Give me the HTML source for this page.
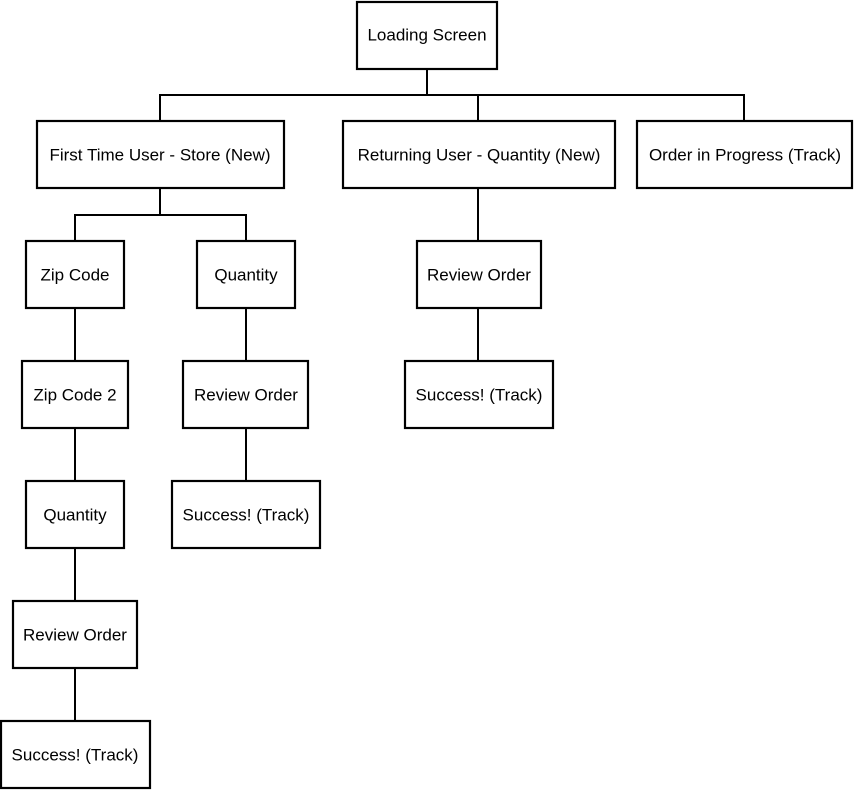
<!DOCTYPE html>
<html><head><meta charset="utf-8"><style>
html,body{margin:0;padding:0;background:#fff;}
svg{display:block;}
text{font-family:"Liberation Sans",sans-serif;font-size:17px;fill:#000;text-anchor:middle;dominant-baseline:central;}
rect{fill:#fff;stroke:#000;stroke-width:2.2;}
line,polyline{stroke:#000;stroke-width:2;fill:none;}
</style></head><body>
<svg width="854" height="790" viewBox="0 0 854 790">
<polyline points="427,69 427,95"/>
<polyline points="160,121 160,95 744,95 744,121"/>
<line x1="478" y1="95" x2="478" y2="121"/>
<line x1="160" y1="188" x2="160" y2="215"/>
<polyline points="75,241 75,215 246,215 246,241"/>
<line x1="75" y1="309" x2="75" y2="721"/>
<line x1="246" y1="309" x2="246" y2="481"/>
<line x1="478" y1="188" x2="478" y2="361"/>

<rect x="357" y="2" width="140" height="67"/><text x="427" y="35">Loading Screen</text>
<rect x="37" y="121" width="247" height="67"/><text x="160" y="155">First Time User - Store (New)</text>
<rect x="343" y="121" width="272" height="67"/><text x="479" y="155">Returning User - Quantity (New)</text>
<rect x="637" y="121" width="215" height="67"/><text x="745" y="155">Order in Progress (Track)</text>

<rect x="26" y="241" width="98" height="67"/><text x="75" y="275">Zip Code</text>
<rect x="197" y="241" width="98" height="67"/><text x="246" y="275">Quantity</text>
<rect x="417" y="241" width="124" height="67"/><text x="479" y="275">Review Order</text>

<rect x="22" y="361" width="106" height="67"/><text x="75" y="395">Zip Code 2</text>
<rect x="183" y="361" width="125" height="67"/><text x="246" y="395">Review Order</text>
<rect x="405" y="361" width="148" height="67"/><text x="479" y="395">Success! (Track)</text>

<rect x="26" y="481" width="98" height="67"/><text x="75" y="515">Quantity</text>
<rect x="172" y="481" width="148" height="67"/><text x="246" y="515">Success! (Track)</text>

<rect x="13" y="601" width="124" height="67"/><text x="75" y="635">Review Order</text>
<rect x="1" y="721" width="149" height="67"/><text x="75" y="755">Success! (Track)</text>
</svg>
</body></html>
